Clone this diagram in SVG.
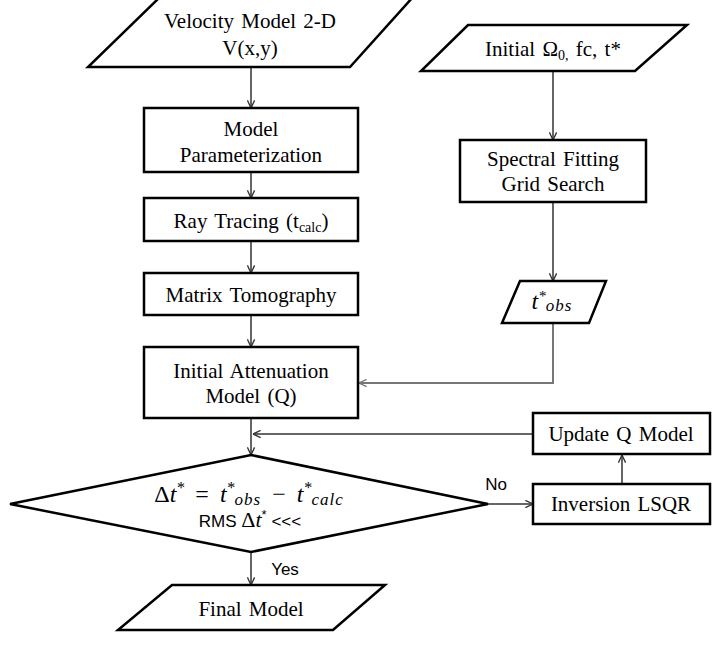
<svg xmlns="http://www.w3.org/2000/svg" width="713" height="645" viewBox="0 0 713 645">
<defs>
<marker id="arr" viewBox="0 0 10 10" refX="9.5" refY="5" markerWidth="9" markerHeight="9" markerUnits="userSpaceOnUse" orient="auto">
<path d="M1,1 L9.5,5 L1,9" fill="none" stroke="#333" stroke-width="1.5"/>
</marker>
<marker id="arrg" viewBox="0 0 10 10" refX="9.5" refY="5" markerWidth="9" markerHeight="9" markerUnits="userSpaceOnUse" orient="auto">
<path d="M1,1 L9.5,5 L1,9" fill="none" stroke="#777" stroke-width="1.5"/>
</marker>
</defs>
<style>
.shape{fill:#fff;stroke:#000;stroke-width:2.5;stroke-linejoin:miter}
.t{font-family:"Liberation Serif","Times New Roman",serif;font-size:21px;fill:#000;text-anchor:middle;word-spacing:2px}
.m{font-family:"Liberation Serif","Times New Roman",serif;font-size:24px;font-style:italic;fill:#000;text-anchor:middle}
.s{font-family:"Liberation Sans",Arial,sans-serif;font-size:17px;fill:#000;text-anchor:middle}
.c{fill:none;stroke:#333;stroke-width:1.5}
.cg{fill:none;stroke:#777;stroke-width:2}
</style>
<rect width="713" height="645" fill="#fff"/>
<g id="connectors">
<line class="c" x1="251" y1="67" x2="251" y2="108" marker-end="url(#arr)"/>
<line class="c" x1="251" y1="172" x2="251" y2="198" marker-end="url(#arr)"/>
<line class="c" x1="251" y1="241" x2="251" y2="273" marker-end="url(#arr)"/>
<line class="c" x1="251" y1="315" x2="251" y2="347" marker-end="url(#arr)"/>
<line class="c" x1="251" y1="418" x2="251" y2="455" marker-end="url(#arr)"/>
<line class="c" x1="533" y1="434" x2="253" y2="434" marker-end="url(#arr)"/>
<line class="c" x1="553" y1="71" x2="553" y2="140" marker-end="url(#arr)"/>
<line class="c" x1="553" y1="202" x2="553" y2="281" marker-end="url(#arr)"/>
<polyline class="cg" points="553,323 553,383 359,383" marker-end="url(#arrg)"/>
<line class="c" x1="488" y1="504" x2="533" y2="504" marker-end="url(#arr)"/>
<line class="c" x1="622" y1="484" x2="622" y2="455" marker-end="url(#arr)"/>
<line class="c" x1="251" y1="552" x2="251" y2="585" marker-end="url(#arr)"/>
<text class="s" x="496" y="490">No</text>
<text class="s" x="285" y="575">Yes</text>
</g>
<g id="velocity-model">
<polygon class="shape" points="160,-3 413,-3 350,67 88,67"/>
<text class="t" x="250" y="28">Velocity Model 2-D</text>
<text class="t" x="250" y="55">V(x,y)</text>
</g>
<g id="model-parameterization">
<rect class="shape" x="144" y="108" width="214" height="64"/>
<text class="t" x="251" y="136">Model</text>
<text class="t" x="251" y="162">Parameterization</text>
</g>
<g id="ray-tracing">
<rect class="shape" x="144" y="198" width="214" height="43"/>
<text class="t" x="251" y="228">Ray Tracing (t<tspan font-size="14" dy="4">calc</tspan><tspan dy="-4">)</tspan></text>
</g>
<g id="matrix-tomography">
<rect class="shape" x="144" y="273" width="214" height="42"/>
<text class="t" x="251" y="302">Matrix Tomography</text>
</g>
<g id="initial-attenuation">
<rect class="shape" x="144" y="347" width="214" height="71"/>
<text class="t" x="251" y="378">Initial Attenuation</text>
<text class="t" x="251" y="403">Model (Q)</text>
</g>
<g id="decision">
<polygon class="shape" points="251,455 488,504 251,552 10,504"/>
<text class="m" x="249" y="502" word-spacing="5"><tspan font-style="normal">Δ</tspan>t<tspan font-size="16" dy="-9">*</tspan><tspan dy="9" font-style="normal"> = </tspan>t<tspan font-size="16" dy="-9">*</tspan><tspan font-size="17" dy="12" letter-spacing="1">obs</tspan><tspan dy="-3" font-style="normal"> − </tspan>t<tspan font-size="16" dy="-9">*</tspan><tspan font-size="17" dy="12" letter-spacing="1">calc</tspan></text>
<text class="s" x="250" y="527" font-size="17">RMS <tspan font-family="Liberation Serif, serif" font-size="22">Δ<tspan font-style="italic">t</tspan></tspan><tspan font-size="13" dy="-8">*</tspan><tspan dy="8"> &lt;&lt;&lt;</tspan></text>
</g>
<g id="final-model">
<polygon class="shape" points="172,585 385,585 333,630 118,630"/>
<text class="t" x="251" y="616">Final Model</text>
</g>
<g id="initial-params">
<polygon class="shape" points="468,25 687,25 635,71 421,71"/>
<text class="t" x="553" y="56">Initial Ω<tspan font-size="14" dy="4">0,</tspan><tspan dy="-4"> fc, t*</tspan></text>
</g>
<g id="spectral-fitting">
<rect class="shape" x="460" y="140" width="186" height="62"/>
<text class="t" x="553" y="166">Spectral Fitting</text>
<text class="t" x="553" y="191">Grid Search</text>
</g>
<g id="t-obs">
<polygon class="shape" points="520,281 606,281 589,323 502,323"/>
<text class="m" x="552" y="309">t<tspan font-size="15" dy="-8">*</tspan><tspan font-size="17" dy="10" letter-spacing="1">obs</tspan></text>
</g>
<g id="update-q">
<rect class="shape" x="533" y="413" width="177" height="41"/>
<text class="t" x="621" y="441">Update Q Model</text>
</g>
<g id="inversion">
<rect class="shape" x="533" y="484" width="177" height="40"/>
<text class="t" x="621" y="511">Inversion LSQR</text>
</g>
</svg>
